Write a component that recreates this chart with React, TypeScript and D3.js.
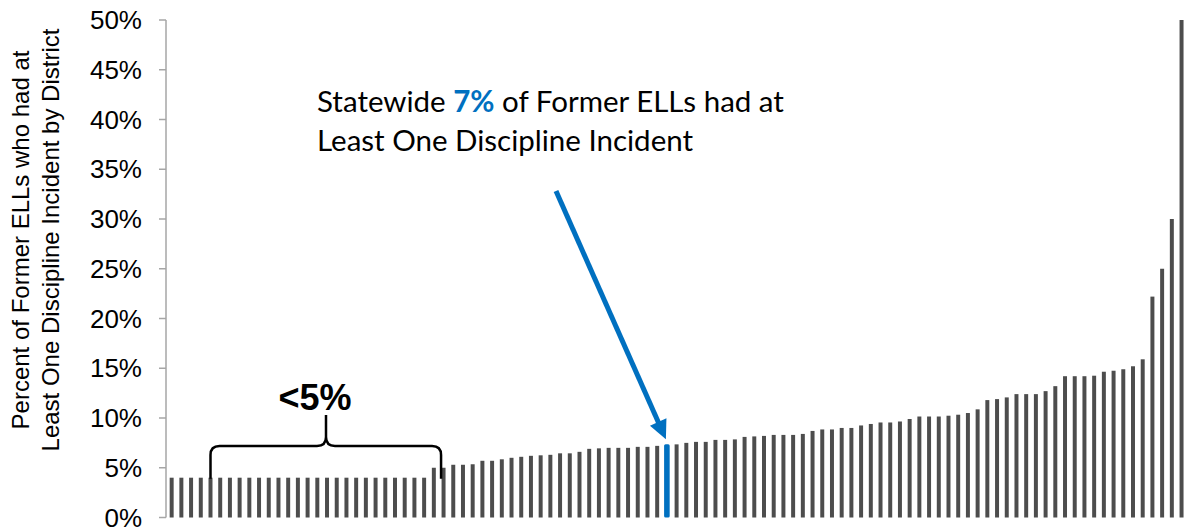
import React, { useEffect, useRef } from "react";
import * as d3 from "d3";

// Percent of former ELLs with at least one discipline incident, one bar per district (sorted)
const districtValues: number[] = [
  4.0, 4.0, 4.0, 4.0, 4.0, 4.0, 4.0, 4.0, 4.0, 4.0, 4.0, 4.0, 4.0, 4.0, 4.0, 4.0, 4.0, 4.0, 4.0, 4.0, 4.0, 4.0, 4.0, 4.0, 4.0, 4.0, 4.0,
  5.0, 5.0, 5.3, 5.3, 5.35, 5.7, 5.7, 5.85, 6.0, 6.1, 6.2, 6.25, 6.3, 6.45, 6.45, 6.6, 6.9, 6.95, 7.0, 7.0, 7.0, 7.1, 7.1, 7.2, 7.35,
  7.35, 7.5, 7.6, 7.6, 7.8, 7.8, 7.85, 8.1, 8.15, 8.2, 8.3, 8.3, 8.3, 8.4, 8.7, 8.85, 8.85, 9.0, 9.0, 9.25, 9.4, 9.55, 9.55, 9.65, 9.9, 10.15, 10.15, 10.15,
  10.23, 10.33, 10.5, 10.87, 11.8, 11.9, 12.07, 12.4, 12.4, 12.4, 12.7, 13.2, 14.2, 14.2, 14.2, 14.25, 14.65, 14.75, 14.9, 15.2, 15.9, 22.2, 25.0, 30.0, 50.0,
];
const districtIds: string[] = districtValues.map((_, i) => `D${i + 1}`);
const statewideIndex = 51; // highlighted statewide bar
const yTicks: number[] = [0, 5, 10, 15, 20, 25, 30, 35, 40, 45, 50];
const yTitleLines: string[] = ["Percent of Former ELLs who had at", "Least One Discipline Incident by District"];
const bracketRange: [number, number] = [4, 28]; // bars at the "<5%" brace ends

const W = 1187;
const H = 529;
const GREY = "#4d4d4d";
const BLUE = "#0070C0";

export default function App() {
  const ref = useRef<SVGSVGElement | null>(null);

  useEffect(() => {
    const svg = d3.select(ref.current);
    svg.selectAll("*").remove();

    const x = d3.scaleBand<string>().domain(districtIds).range([166.8, 1186.4]).paddingInner(0.59).paddingOuter(0.295);
    const y = d3.scaleLinear().domain([0, 50]).range([517.5, 20]);

    // bars
    svg
      .append("g")
      .selectAll("rect")
      .data(districtValues)
      .join("rect")
      .attr("x", (_, i) => {
        const bw = i === statewideIndex ? x.bandwidth() + 1.6 : x.bandwidth();
        return (x(districtIds[i]) as number) + x.bandwidth() / 2 - bw / 2;
      })
      .attr("width", (_, i) => (i === statewideIndex ? x.bandwidth() + 1.6 : x.bandwidth()))
      .attr("y", (d) => y(d))
      .attr("height", (d) => y(0) - y(d))
      .attr("rx", (_, i) => (i === statewideIndex ? 1.5 : 0))
      .attr("fill", (_, i) => (i === statewideIndex ? BLUE : GREY));

    // y axis
    const axisG = svg.append("g").attr("transform", `translate(166,0)`);
    axisG
      .append("line")
      .attr("x1", 0)
      .attr("x2", 0)
      .attr("y1", y(50))
      .attr("y2", y(0))
      .attr("stroke", "#a6a6a6")
      .attr("stroke-width", 1.5);
    axisG
      .selectAll("line.tick")
      .data(yTicks)
      .join("line")
      .attr("class", "tick")
      .attr("x1", -7)
      .attr("x2", 0)
      .attr("y1", (d) => y(d))
      .attr("y2", (d) => y(d))
      .attr("stroke", "#a6a6a6")
      .attr("stroke-width", 1.5);
    axisG
      .selectAll("text")
      .data(yTicks)
      .join("text")
      .attr("x", -24)
      .attr("y", (d) => y(d))
      .attr("dy", "0.35em")
      .attr("text-anchor", "end")
      .attr("font-family", "Liberation Sans, Arial, sans-serif")
      .attr("font-size", 26)
      .attr("fill", "#000")
      .text((d) => `${d}%`);

    // y title
    const yt = svg
      .append("text")
      .attr("transform", `translate(0,240) rotate(-90)`)
      .attr("text-anchor", "middle")
      .attr("font-family", "Liberation Sans, Arial, sans-serif")
      .attr("font-size", 24)
      .attr("fill", "#000");
    yTitleLines.forEach((t, i) => {
      yt.append("tspan").attr("x", 0).attr("y", 28.5 + i * 30).text(t);
    });

    // annotation text
    const ann = svg
      .append("text")
      .attr("font-family", "Lato, 'Open Sans', sans-serif")
      .attr("font-size", 29.5)
      .attr("fill", "#000");
    const l1 = ann.append("tspan").attr("x", 317).attr("y", 112);
    l1.append("tspan").text("Statewide ");
    l1.append("tspan").attr("font-weight", "bold").attr("fill", BLUE).text("7%");
    l1.append("tspan").text(" of Former ELLs had at");
    ann.append("tspan").attr("x", 317).attr("y", 151).text("Least One Discipline Incident");

    // arrow
    const sx = 556,
      sy = 191;
    const tipX = (x(districtIds[statewideIndex]) as number) + x.bandwidth() / 2 - 1;
    const tipY = y(districtValues[statewideIndex]) - 5;
    const ang = Math.atan2(tipY - sy, tipX - sx);
    const headLen = 19,
      headW = 9;
    const bx = tipX - headLen * Math.cos(ang),
      by = tipY - headLen * Math.sin(ang);
    svg
      .append("line")
      .attr("x1", sx)
      .attr("y1", sy)
      .attr("x2", bx + 2 * Math.cos(ang))
      .attr("y2", by + 2 * Math.sin(ang))
      .attr("stroke", BLUE)
      .attr("stroke-width", 5);
    const px = -Math.sin(ang),
      py = Math.cos(ang);
    svg
      .append("path")
      .attr(
        "d",
        `M${tipX},${tipY} L${bx + px * headW},${by + py * headW} L${bx - px * headW},${by - py * headW} Z`
      )
      .attr("fill", BLUE);

    // brace over the <5% districts
    const left = (x(districtIds[bracketRange[0]]) as number) + x.bandwidth() / 2;
    const right = (x(districtIds[bracketRange[1]]) as number) - 0.5;
    const mid = 326;
    const bottom = y(4.0) + 1;
    const hy = 446;
    const top = 415;
    const r = 9;
    const brace = d3.path();
    brace.moveTo(left, bottom);
    brace.lineTo(left, hy + r);
    brace.quadraticCurveTo(left, hy, left + r, hy);
    brace.lineTo(mid - r, hy);
    brace.quadraticCurveTo(mid, hy, mid, hy - r);
    brace.lineTo(mid, top);
    brace.moveTo(mid, hy - r);
    brace.quadraticCurveTo(mid, hy, mid + r, hy);
    brace.lineTo(right - r, hy);
    brace.quadraticCurveTo(right, hy, right, hy + r);
    brace.lineTo(right, bottom);
    svg
      .append("path")
      .attr("d", brace.toString())
      .attr("fill", "none")
      .attr("stroke", "#000")
      .attr("stroke-width", 2.5);

    svg
      .append("text")
      .attr("x", 315)
      .attr("y", 410)
      .attr("text-anchor", "middle")
      .attr("font-family", "Liberation Sans, Arial, sans-serif")
      .attr("font-weight", "bold")
      .attr("font-size", 36)
      .attr("fill", "#000")
      .text("<5%");
  }, []);

  return (
    <svg
      ref={ref}
      width={W}
      height={H}
      style={{ position: "absolute", left: 0, top: 0, background: "#fff" }}
    />
  );
}
